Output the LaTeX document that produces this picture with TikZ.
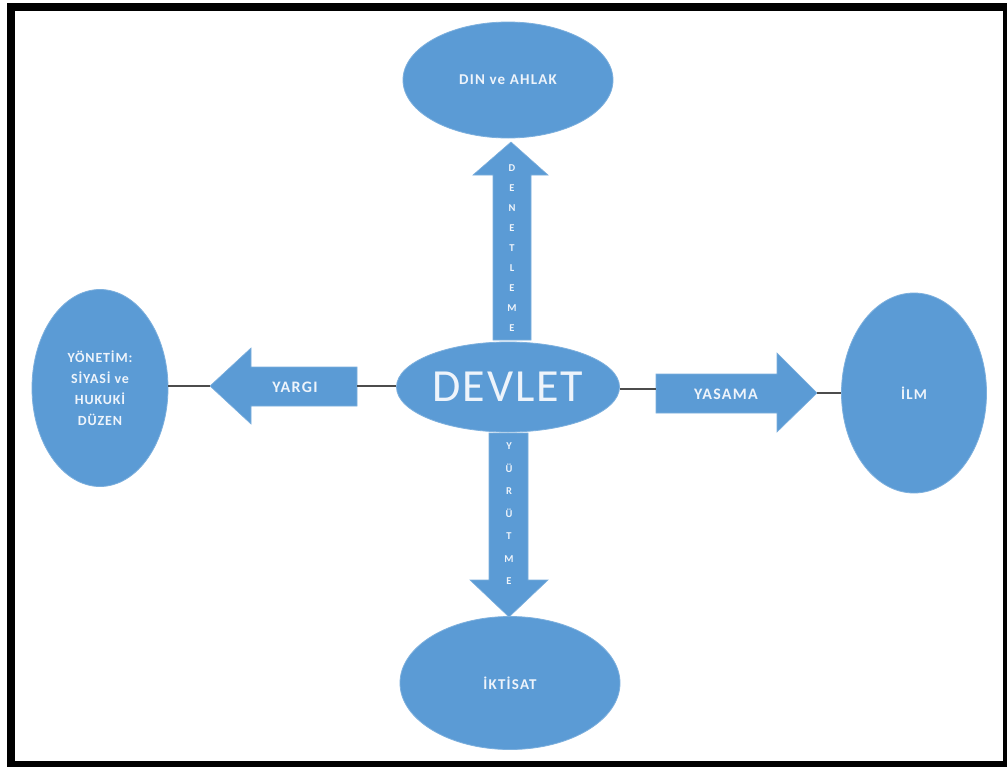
\documentclass[tikz,border=0pt]{standalone}
\usepackage{fontspec}
\setmainfont{Carlito}
\usetikzlibrary{shapes.geometric}
\definecolor{blu}{HTML}{5B9BD5}
\definecolor{txt}{HTML}{EEF4FB}
\begin{document}
\begin{tikzpicture}[x=1pt,y=-1pt,
  oval/.style={ellipse, fill=blu, draw=blu!80!white, line width=0.8pt, inner sep=0pt,
    text=txt, font=\bfseries\fontsize{15}{16}\selectfont\addfontfeatures{LetterSpace=8}, align=center},
  conn/.style={draw=black!70, line width=1.3pt},
  blockarrow/.style={fill=blu, draw=blu!80!white, line width=0.6pt},
  lbl/.style={text=txt, font=\bfseries\fontsize{16}{16}\selectfont\addfontfeatures{LetterSpace=8}, inner sep=0pt},
  vlbl/.style={text=txt, font=\bfseries\fontsize{10.5}{10.5}\selectfont, inner sep=0pt, align=center}]
\useasboundingbox (0,0) rectangle (1007,766);
\fill[white] (0,0) rectangle (1007,766);
\draw[line width=8pt] (10.5,7.3) rectangle (1007,765);

% ellipses
\node[oval, minimum width=210pt, minimum height=116pt] (din) at (508,80) {DIN ve AHLAK};
\node[oval, minimum width=223pt, minimum height=90pt, font=\fontsize{46}{48}\selectfont\addfontfeatures{LetterSpace=4}] (devlet) at (508,387) {DEVLET};
\node[oval, minimum width=136pt, minimum height=197pt, font=\bfseries\fontsize{14}{21}\selectfont\addfontfeatures{LetterSpace=6}] (yon) at (100,388) {YÖNETİM:\\SİYASİ ve\\HUKUKİ\\DÜZEN};
\node[oval, minimum width=145pt, minimum height=200pt] (ilm) at (914,393) {İLM};
\node[oval, minimum width=220pt, minimum height=133pt] (iktisat) at (510,683) {İKTİSAT};

% up arrow (DENETLEME)
\fill[blockarrow] (493,340) -- (493,175) -- (473,175) -- (511,142) -- (548,175) -- (531,175) -- (531,340) -- cycle;
\node[vlbl] (denet) at (512,248) {D\\[9.5pt]E\\[9.5pt]N\\[9.5pt]E\\[9.5pt]T\\[9.5pt]L\\[9.5pt]E\\[9.5pt]M\\[9.5pt]E};

% down arrow (YÜRÜTME)
\fill[blockarrow] (489,433) -- (489,580) -- (470,580) -- (509,617) -- (548,580) -- (528,580) -- (528,433) -- cycle;
\node[vlbl] (yurut) at (509,514) {Y\\[12pt]Ü\\[12pt]R\\[12pt]Ü\\[12pt]T\\[12pt]M\\[12pt]E};

% left arrow (YARGI)
\fill[blockarrow] (357,367) -- (251,367) -- (251,348) -- (210,386) -- (251,424) -- (251,406) -- (357,406) -- cycle;
\node[lbl] (yargi) at (295,387) {YARGI};
\coordinate (yargitip) at (210,386);
\coordinate (yargiback) at (357,386);

% right arrow (YASAMA)
\fill[blockarrow] (656,374) -- (777,374) -- (777,353) -- (817,393) -- (777,432) -- (777,413) -- (656,413) -- cycle;
\node[lbl] (yasama) at (726,394) {YASAMA};
\coordinate (yasamatip) at (817,393);
\coordinate (yasamaback) at (656,389);

% connectors
\draw[conn] (yon.east |- yargitip) -- (yargitip);
\draw[conn] (yargiback) -- (devlet.west |- yargiback);
\draw[conn] (devlet.east |- yasamaback) -- (yasamaback);
\draw[conn] (yasamatip) -- (ilm.west |- yasamatip);
\end{tikzpicture}
\end{document}
